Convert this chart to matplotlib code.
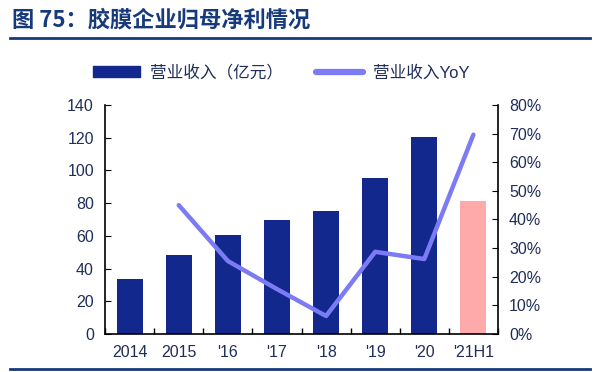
import numpy as np
import matplotlib
matplotlib.use("Agg")
from matplotlib import pyplot as plt
from matplotlib.lines import Line2D

plt.rcParams['font.family'] = ['Liberation Sans', 'Noto Sans CJK SC', 'DejaVu Sans']

categories = ["2014", "2015", "'16", "'17", "'18", "'19", "'20", "'21H1"]
revenue = [33.6, 48.3, 60.5, 69.7, 75.2, 95.4, 120.4, 81.3]
yoy_x = ["2015", "'16", "'17", "'18", "'19", "'20", "'21H1"]
yoy = [45.0, 25.5, 15.7, 6.3, 28.7, 26.2, 69.6]

bar_color = "#13288C"
last_color = "#FFAAAA"
line_color = "#7B7BF5"
text_color = "#1F2D5A"

fig = plt.figure(figsize=(6.11, 3.72), dpi=100)
ax = fig.add_axes([0.172, 0.102, 0.643, 0.616])
ax2 = ax.twinx()

x = np.arange(len(categories))
colors = [bar_color] * (len(categories) - 1) + [last_color]
ax.bar(x, revenue, width=0.53, color=colors, zorder=2)

xi = [categories.index(c) for c in yoy_x]
ax2.plot(xi, yoy, color=line_color, lw=3.2, solid_capstyle='round', solid_joinstyle='round')

ax.set_xlim(-0.5, len(categories) - 0.5)
ax.set_ylim(0, 140)
ax.set_yticks(np.arange(0, 141, 20))
ax2.set_ylim(0, 80)
ax2.set_yticks(np.arange(0, 81, 10))
ax2.set_yticklabels([f"{v}%" for v in range(0, 81, 10)])

ax.set_xticks(x)
ax.set_xticklabels(categories)
ax.set_xticks(np.arange(-0.5, len(categories)), minor=True)
ax.tick_params(axis='x', which='major', length=0, pad=8, labelsize=11.5, colors=text_color)
ax.tick_params(axis='x', which='minor', direction='in', length=4, width=1)
ax.tick_params(axis='y', direction='in', length=4, labelsize=11.5, labelcolor=text_color, pad=8)
ax2.tick_params(axis='y', direction='in', length=4, labelsize=11.5, labelcolor=text_color, pad=8)

for a in (ax, ax2):
    a.spines['top'].set_visible(False)
    for s in ('left', 'right', 'bottom'):
        a.spines[s].set_linewidth(1.2)
ax.spines['right'].set_visible(False)
ax2.spines['left'].set_visible(False)
ax2.spines['bottom'].set_visible(False)

# legend
handles = [plt.Rectangle((0, 0), 1, 1, color=bar_color),
           Line2D([0], [0], color=line_color, lw=4.5, solid_capstyle='round')]
fig.legend(handles, ["营业收入（亿元）", "营业收入YoY"], loc='center', bbox_to_anchor=(0.46, 0.805),
           ncol=2, frameon=False, fontsize=12, labelcolor=text_color,
           handlelength=2.8, handleheight=0.6, columnspacing=2.0, handletextpad=0.6)

# title and rules
fig.text(0.02, 0.945, "图 75：胶膜企业归母净利情况", fontsize=16, fontweight='bold',
         color="#163A7C", va='center', family=['Noto Sans CJK SC', 'DejaVu Sans'])
fig.add_artist(Line2D([0.016, 0.965], [0.897, 0.897], color="#163A7C", lw=2))
fig.add_artist(Line2D([0.016, 0.965], [0.008, 0.008], color="#163A7C", lw=2))

fig.savefig("out.png", dpi=100)
